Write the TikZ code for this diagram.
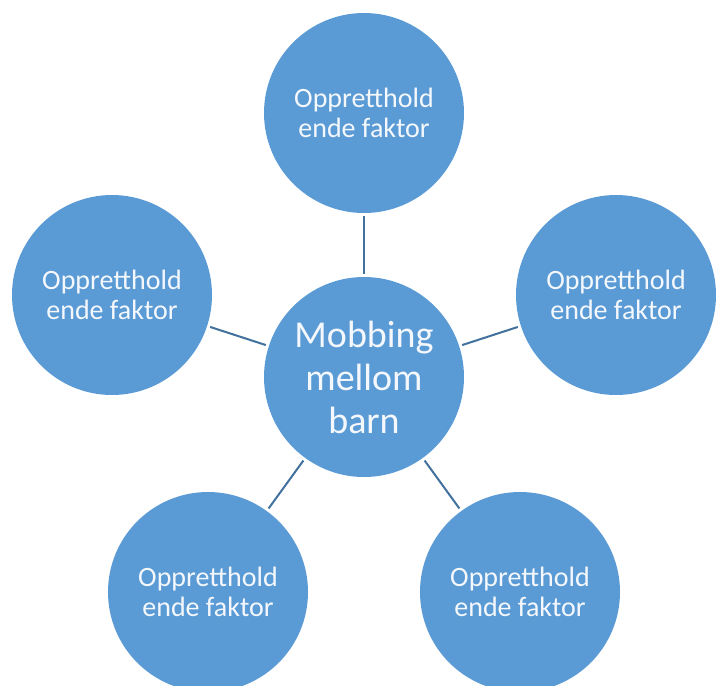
\documentclass[tikz,border=0pt]{standalone}
\usepackage{fontspec}
\setmainfont{Carlito}
\definecolor{circblue}{HTML}{5B9BD5}
\definecolor{linkblue}{HTML}{41719C}
\definecolor{txtwhite}{HTML}{F4F8FC}
\begin{document}
\begin{tikzpicture}[x=1pt,y=-1pt,
  bubble/.style={circle, fill=circblue, minimum size=200pt, inner sep=0pt,
    text=txtwhite, align=center},
  outer/.style={bubble, font=\fontsize{28}{30}\selectfont},
  hub/.style={bubble, font=\fontsize{38}{43}\selectfont},
  link/.style={draw=linkblue, line width=2pt, shorten <=3pt, shorten >=3pt}]
\useasboundingbox (0,0) rectangle (721,686);
\node[hub] (c) at (364,377) {Mobbing\\mellom\\barn};
\node[outer] (t) at (364,113) {Oppretthold\\ende faktor};
\node[outer] (l) at (112,295) {Oppretthold\\ende faktor};
\node[outer] (r) at (616,295) {Oppretthold\\ende faktor};
\node[outer] (bl) at (208,592) {Oppretthold\\ende faktor};
\node[outer] (br) at (520,592) {Oppretthold\\ende faktor};
\draw[link] (c) -- (t);
\draw[link] (c) -- (l);
\draw[link] (c) -- (r);
\draw[link] (c) -- (bl);
\draw[link] (c) -- (br);
\end{tikzpicture}
\end{document}
